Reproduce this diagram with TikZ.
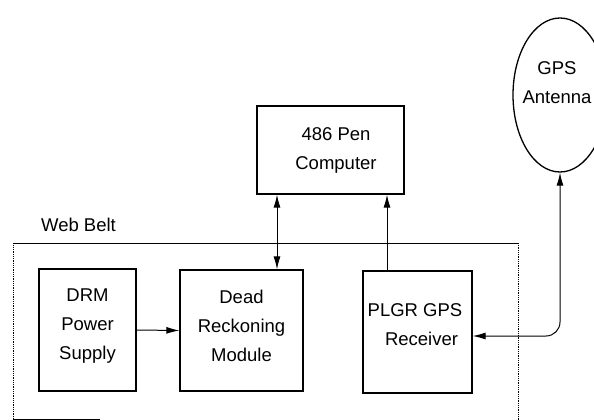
\documentclass[tikz,border=0pt]{standalone}
\usepackage{fontspec}
\setmainfont{Liberation Sans}
\usetikzlibrary{arrows.meta,shapes.geometric}
\begin{document}
\begin{tikzpicture}[x=1pt,y=-1pt,
  blk/.style={draw,line width=1.3pt,minimum width=#1,inner sep=0pt},
  txt/.style={align=center,inner sep=0pt,font=\fontsize{18.5}{29}\selectfont},
  arr/.style={line width=1pt,-{Latex[length=13pt,width=7pt]}},
  arrb/.style={line width=1pt,{Latex[length=13pt,width=7pt]}-{Latex[length=13pt,width=7pt]}},
  belt/.style={line width=0.9pt,dash pattern=on 1pt off 0.8pt}]
\useasboundingbox (0,0) rectangle (594,420);
\clip (0,0) rectangle (594,420);
% web belt
\node[txt,anchor=center] (wbt) at (78.5,225) {Web Belt};
\draw[belt] (13,419) -- (13,243);
\draw[line width=0.8pt] (13,243) -- (518,243);
\draw[belt] (518,243) -- (518,421);
\draw[line width=0.7pt] (13,419) -- (100,419);
% boxes
\node[blk=97pt,minimum height=122pt] (drm) at (87.5,330) {};
\node[txt] (drmt) at (87.5,326) {DRM\\Power\\Supply};
\node[blk=123pt,minimum height=121pt] (dr) at (241.5,330.5) {};
\node[txt] (drt) at (241.5,326) {Dead\\Reckoning\\Module};
\node[blk=109pt,minimum height=122pt] (plgr) at (417.5,332) {};
\node[txt] (plgrt) at (415,325) {PLGR GPS\\\hspace*{13pt}Receiver};
\node[blk=147pt,minimum height=88pt] (comp) at (330.5,150) {};
\node[txt] (compt) at (336,150.5) {486 Pen\\Computer};
\node[draw,ellipse,line width=1.3pt,minimum width=94pt,minimum height=154pt,inner sep=0pt] (ant) at (560,95) {};
\node[txt] (antt) at (557,83) {GPS\\Antenna};
% connectors
\coordinate (xa) at (277,0);
\coordinate (xb) at (387,0);
\coordinate (ya) at (0,336);
\draw[arr] (drm.east) -- (dr.west);
\draw[arrb] (dr.north -| xa) -- (comp.south -| xa);
\draw[arr] (plgr.north -| xb) -- (comp.south -| xb);
\draw[arrb,rounded corners=14pt] (ant.south) -- (ant.south |- ya) -- (plgr.east |- ya);
\end{tikzpicture}
\end{document}
